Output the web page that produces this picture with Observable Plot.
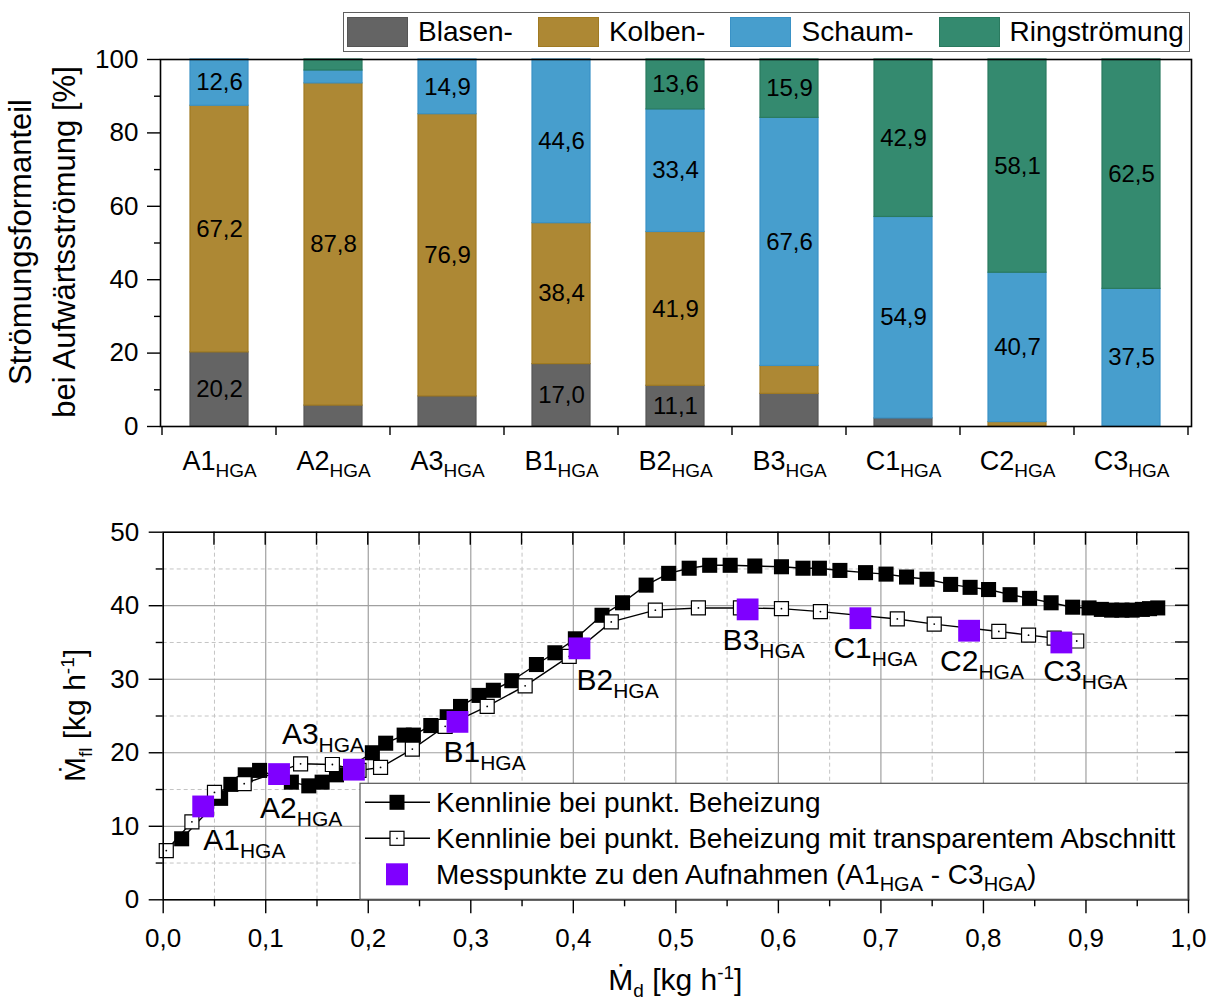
<!DOCTYPE html>
<html>
<head>
<meta charset="utf-8">
<script src="https://cdn.jsdelivr.net/npm/d3@7"></script>
<script src="https://cdn.jsdelivr.net/npm/@observablehq/plot@0.6"></script>
<style>
  body { margin: 0; background: #fff; }
  #wrap { position: relative; width: 1215px; height: 1001px; overflow: hidden;
          font-family: "Liberation Sans", Arial, Helvetica, sans-serif; color: #000; }
  #wrap svg { position: absolute; left: 0; }
  .legend { position: absolute; left: 343px; top: 12px; width: 847px; height: 40px; box-sizing: border-box;
            border: 1.5px solid #606060; background: #fff; display: flex; align-items: center;
            gap: 25px; padding-left: 3px; font-size: 28px; z-index: 2; }
  .legend .item { display: flex; align-items: center; }
  .legend .sw { width: 61px; height: 30px; box-sizing: border-box; border: 1.5px solid; margin-right: 10px; }
</style>
</head>
<body>
<div id="wrap"></div>
<script>
// ---- Flow-regime shares per recording (%) ----
const runs = ["A1", "A2", "A3", "B1", "B2", "B3", "C1", "C2", "C3"];
const regimes = ["Blasen-", "Kolben-", "Schaum-", "Ringströmung"];
const blasen = [20.2, 5.7, 8.2, 17.0, 11.1, 8.9, 2.2, 0, 0];
const kolben = [67.2, 87.8, 76.9, 38.4, 41.9, 7.6, 0, 1.2, 0];
const schaum = [12.6, 3.5, 14.9, 44.6, 33.4, 67.6, 54.9, 40.7, 37.5];
const ring = [0, 3.0, 0, 0, 13.6, 15.9, 42.9, 58.1, 62.5];
const shareTicks = [0, 20, 40, 60, 80, 100];
const shareMinorTicks = [10, 30, 50, 70, 90];

// ---- Characteristic curves: liquid vs. vapour mass flow (kg/h) ----
const beheizungX = [0.018, 0.056, 0.066, 0.080, 0.094, 0.125, 0.142, 0.155, 0.169, 0.204, 0.217, 0.235, 0.244,
  0.261, 0.277, 0.290, 0.308, 0.322, 0.340, 0.364, 0.382, 0.402, 0.428, 0.448, 0.471, 0.493, 0.513, 0.533,
  0.553, 0.577, 0.603, 0.624, 0.640, 0.660, 0.685, 0.705, 0.725, 0.745, 0.768, 0.787, 0.805, 0.826, 0.845,
  0.866, 0.887, 0.903, 0.915, 0.925, 0.935, 0.945, 0.955, 0.962, 0.970];
const beheizungY = [8.3, 13.8, 15.7, 17.0, 17.6, 16.0, 15.5, 16.0, 17.0, 20.0, 21.3, 22.4, 22.4,
  23.7, 24.9, 26.3, 27.8, 28.5, 29.8, 32.0, 33.6, 35.5, 38.7, 40.4, 42.8, 44.4, 45.1, 45.5,
  45.5, 45.4, 45.3, 45.1, 45.1, 44.8, 44.5, 44.3, 43.9, 43.6, 42.9, 42.5, 42.2, 41.5, 41.0,
  40.4, 39.8, 39.7, 39.5, 39.4, 39.4, 39.4, 39.5, 39.6, 39.7];
const transparentX = [0.003, 0.028, 0.050, 0.079, 0.134, 0.165, 0.191, 0.212, 0.243, 0.275, 0.316, 0.353,
  0.396, 0.437, 0.480, 0.522, 0.563, 0.603, 0.641, 0.716, 0.752, 0.815, 0.844, 0.869, 0.891];
const transparentY = [6.7, 10.6, 14.6, 15.8, 18.5, 18.4, 17.6, 18.0, 20.5, 23.6, 26.3, 29.1,
  33.1, 37.8, 39.4, 39.7, 39.7, 39.6, 39.2, 38.2, 37.5, 36.5, 36.0, 35.6, 35.2];
const messX = [0.039, 0.113, 0.186, 0.287, 0.406, 0.570, 0.680, 0.786, 0.876];
const messY = [12.7, 17.1, 17.7, 24.2, 34.2, 39.5, 38.3, 36.6, 35.0];
const flowTicksX = [0, 0.1, 0.2, 0.3, 0.4, 0.5, 0.6, 0.7, 0.8, 0.9, 1.0];
const flowTicksY = [0, 10, 20, 30, 40, 50];

// ---- Styling / layout ----
const FONT = '"Liberation Sans", Arial, Helvetica, sans-serif';
const fills = {"Blasen-": "#646464", "Kolben-": "#ad8834", "Schaum-": "#479ecd", "Ringströmung": "#348a6f"};
const strokes = {"Blasen-": "#555555", "Kolben-": "#a07a22", "Schaum-": "#3a92c6", "Ringströmung": "#2a7a5f"};
const PURPLE = "#7f00ff";
// label nudges (px) for the run names next to the measured points
const runLabelNudge = [[0, 44], [-19, 44], [-72, -26], [-14, 40], [-3, 42], [-25, 41], [-27, 40], [-29, 40], [-18, 39]];
const comma = v => v.toFixed(1).replace(".", ",");

const wrap = d3.select("#wrap");

// ---------- legend above the bar chart ----------
const legend = wrap.append("div").attr("class", "legend");
regimes.forEach(r => {
  const it = legend.append("div").attr("class", "item");
  it.append("div").attr("class", "sw").style("background", fills[r]).style("border-color", strokes[r]);
  it.append("span").text(r);
});

// ---------- stacked bar chart ----------
const shares = [blasen, kolben, schaum, ring];
const stacked = runs.flatMap((run, i) => regimes.map((regime, j) => ({run, regime, value: shares[j][i]})));

const topChart = Plot.plot({
  width: 1215, height: 490,
  marginTop: 59, marginBottom: 64, marginLeft: 160, marginRight: 24,
  style: {fontFamily: FONT, fontSize: "26px", color: "#000", background: "transparent", overflow: "visible"},
  x: {domain: runs, paddingInner: 0.49, paddingOuter: 0.245, label: null},
  y: {domain: [0, 100], label: null},
  color: {type: "identity"},
  marks: [
    Plot.barY(stacked.filter(d => d.value > 0), {
      x: "run", y: "value",
      fill: d => fills[d.regime], stroke: d => strokes[d.regime], strokeWidth: 1.2
    }),
    Plot.text(stacked, Plot.stackY({
      x: "run", y: "value",
      text: d => d.value >= 10 ? comma(d.value) : "",
      fontSize: 24, fill: "#000"
    })),
    Plot.frame({stroke: "#000", strokeWidth: 1.6}),
    Plot.axisY({ticks: shareTicks, tickSize: 13, tickPadding: 9, fontSize: 26, tickFormat: d => String(d), strokeWidth: 1.4}),
    Plot.axisY({ticks: shareMinorTicks, tickSize: 6, tickFormat: () => "", strokeWidth: 1.4}),
    Plot.axisX({tickSize: 0, tickPadding: 24, fontSize: 27})
  ]
});
d3.select(topChart).style("top", "0px");
wrap.node().appendChild(topChart);

{
  const svg = d3.select(topChart);
  // subscript "HGA" on the category labels
  svg.selectAll('g[aria-label="x-axis tick label"] text').each(function () {
    d3.select(this).append("tspan").attr("font-size", 19).attr("dy", 7).text("HGA");
  });
  // ticks at the boundaries between categories
  const sx = topChart.scale("x");
  const gap = sx.step - sx.bandwidth;
  const yb = 490 - 64;
  for (let i = 0; i <= runs.length; i++) {
    const px = (i < runs.length ? sx.apply(runs[i]) : sx.apply(runs[i - 1]) + sx.step) - gap / 2;
    svg.append("line").attr("x1", px).attr("x2", px).attr("y1", yb).attr("y2", yb + 9)
      .attr("stroke", "#000").attr("stroke-width", 1.4);
  }
  // axis title (two lines)
  [["Strömungsformanteil", 31], ["bei Aufwärtsströmung [%]", 75]].forEach(([t, x]) => {
    svg.append("text").attr("transform", `translate(${x},242) rotate(-90)`)
      .attr("text-anchor", "middle").attr("font-size", 31).attr("fill", "#000").text(t);
  });
}

// ---------- characteristic curves ----------
const beheizung = beheizungX.map((x, i) => ({x, y: beheizungY[i]}));
const transparent = transparentX.map((x, i) => ({x, y: transparentY[i]}));
const mess = messX.map((x, i) => ({x, y: messY[i], run: runs[i]}));

const minorX = d3.range(1, 20, 2).map(k => k * 0.05);
const minorY = [5, 15, 25, 35, 45];

const bottomChart = Plot.plot({
  width: 1215, height: 511,
  marginTop: 41.7, marginBottom: 101.7, marginLeft: 162.7, marginRight: 27,
  style: {fontFamily: FONT, fontSize: "26px", color: "#000", background: "transparent", overflow: "visible"},
  x: {domain: [0, 1], label: null},
  y: {domain: [0, 50], label: null},
  marks: [
    Plot.gridX({ticks: minorX, stroke: "#c4c4c4", strokeOpacity: 1, strokeDasharray: "4,3"}),
    Plot.gridY({ticks: minorY, stroke: "#c4c4c4", strokeOpacity: 1, strokeDasharray: "4,3"}),
    Plot.gridX({ticks: flowTicksX.slice(1, -1), stroke: "#a0a0a0", strokeOpacity: 1, strokeWidth: 1.2}),
    Plot.gridY({ticks: flowTicksY.slice(1, -1), stroke: "#a0a0a0", strokeOpacity: 1, strokeWidth: 1.2}),
    Plot.line(beheizung, {x: "x", y: "y", stroke: "#000", strokeWidth: 1.4}),
    Plot.dot(beheizung, {x: "x", y: "y", symbol: "square", r: 8.5, fill: "#000"}),
    Plot.line(transparent, {x: "x", y: "y", stroke: "#000", strokeWidth: 1.4}),
    Plot.dot(transparent, {x: "x", y: "y", symbol: "square", r: 7.9, fill: "#fff", stroke: "#000", strokeWidth: 1.2}),
    Plot.dot(transparent, {x: "x", y: "y", r: 0.9, fill: "#000"}),
    Plot.dot(mess, {x: "x", y: "y", symbol: "square", r: 12.3, fill: PURPLE}),
    ...mess.map((d, i) => Plot.text([d], {
      x: "x", y: "y", text: "run", textAnchor: "start", lineAnchor: "bottom",
      dx: runLabelNudge[i][0], dy: runLabelNudge[i][1], fontSize: 30, fill: "#000"
    })),
    Plot.frame({stroke: "#000", strokeWidth: 1.6}),
    Plot.axisX({ticks: flowTicksX, tickSize: 14, tickPadding: 15, fontSize: 26, tickFormat: comma, strokeWidth: 1.4}),
    Plot.axisX({ticks: minorX, tickSize: 7, tickFormat: () => "", strokeWidth: 1.4}),
    Plot.axisY({ticks: flowTicksY, tickSize: 14, tickPadding: 10, fontSize: 26, tickFormat: d => String(d), strokeWidth: 1.4}),
    Plot.axisY({ticks: minorY, tickSize: 7, tickFormat: () => "", strokeWidth: 1.4})
  ]
});
d3.select(bottomChart).style("top", "490px");
wrap.node().appendChild(bottomChart);

{
  const svg = d3.select(bottomChart);
  const sx = bottomChart.scale("x"), sy = bottomChart.scale("y");
  const yTop = sy.apply(50), yBot = sy.apply(0), xL = sx.apply(0), xR = sx.apply(1);

  // subscript "HGA" on the run labels
  svg.selectAll("text").filter(function () { return runs.includes(this.textContent); }).each(function () {
    d3.select(this).append("tspan").attr("font-size", 21).attr("dy", 8).text("HGA");
  });

  // inward ticks on the top and right frame
  d3.range(1, 20).map(k => k * 0.05).forEach(v => {
    svg.append("line").attr("x1", sx.apply(v)).attr("x2", sx.apply(v)).attr("y1", yTop).attr("y2", yTop + 13)
      .attr("stroke", "#000").attr("stroke-width", 1.4);
  });
  d3.range(1, 10).map(k => k * 5).forEach(v => {
    svg.append("line").attr("x1", xR).attr("x2", xR - 13).attr("y1", sy.apply(v)).attr("y2", sy.apply(v))
      .attr("stroke", "#000").attr("stroke-width", 1.4);
  });

  // legend box inside the plot
  const lg = svg.append("g").attr("font-size", 28).attr("fill", "#000").attr("text-anchor", "start");
  const bx = 360, bw = xR - bx, by = yBot - 116;
  lg.append("rect").attr("x", bx).attr("y", by).attr("width", bw).attr("height", 116)
    .attr("fill", "#fff").attr("stroke", "#555").attr("stroke-width", 1.2);
  const rows = [by + 19, by + 55, by + 91];
  const sample = (cy, kind) => {
    if (kind !== "mess") {
      lg.append("line").attr("x1", 365).attr("x2", 430).attr("y1", cy).attr("y2", cy)
        .attr("stroke", "#000").attr("stroke-width", 1.6);
    }
    const s = kind === "mess" ? 22 : kind === "fill" ? 15 : 14;
    lg.append("rect").attr("x", 397 - s / 2).attr("y", cy - s / 2).attr("width", s).attr("height", s)
      .attr("fill", kind === "fill" ? "#000" : kind === "mess" ? PURPLE : "#fff")
      .attr("stroke", kind === "open" ? "#000" : "none").attr("stroke-width", 1.2);
    if (kind === "open") lg.append("circle").attr("cx", 397).attr("cy", cy).attr("r", 0.9).attr("fill", "#000");
  };
  sample(rows[0], "fill");
  sample(rows[1], "open");
  sample(rows[2], "mess");
  lg.append("text").attr("x", 436).attr("y", rows[0] + 10).text("Kennlinie bei punkt. Beheizung");
  lg.append("text").attr("x", 436).attr("y", rows[1] + 10).text("Kennlinie bei punkt. Beheizung mit transparentem Abschnitt");
  const t3 = lg.append("text").attr("x", 436).attr("y", rows[2] + 10);
  t3.append("tspan").text("Messpunkte zu den Aufnahmen (A1");
  t3.append("tspan").attr("font-size", 20).attr("dy", 7).text("HGA");
  t3.append("tspan").attr("dy", -7).text(" - C3");
  t3.append("tspan").attr("font-size", 20).attr("dy", 7).text("HGA");
  t3.append("tspan").attr("dy", -7).text(")");

  // axis titles
  const xt = svg.append("text").attr("x", (xL + xR) / 2).attr("y", 500).attr("text-anchor", "middle")
    .attr("font-size", 30).attr("fill", "#000");
  xt.append("tspan").text("Ṁ");
  xt.append("tspan").attr("font-size", 19).attr("dy", 7).text("d");
  xt.append("tspan").attr("dy", -7).text(" [kg h");
  xt.append("tspan").attr("font-size", 19).attr("dy", -11).text("-1");
  xt.append("tspan").attr("dy", 11).text("]");

  const yt = svg.append("text").attr("transform", `translate(85,${(yTop + yBot) / 2}) rotate(-90)`)
    .attr("text-anchor", "middle").attr("font-size", 30).attr("fill", "#000");
  yt.append("tspan").text("Ṁ");
  yt.append("tspan").attr("font-size", 19).attr("dy", 7).text("fl");
  yt.append("tspan").attr("dy", -7).text(" [kg h");
  yt.append("tspan").attr("font-size", 19).attr("dy", -11).text("-1");
  yt.append("tspan").attr("dy", 11).text("]");
}
</script>
</body>
</html>
